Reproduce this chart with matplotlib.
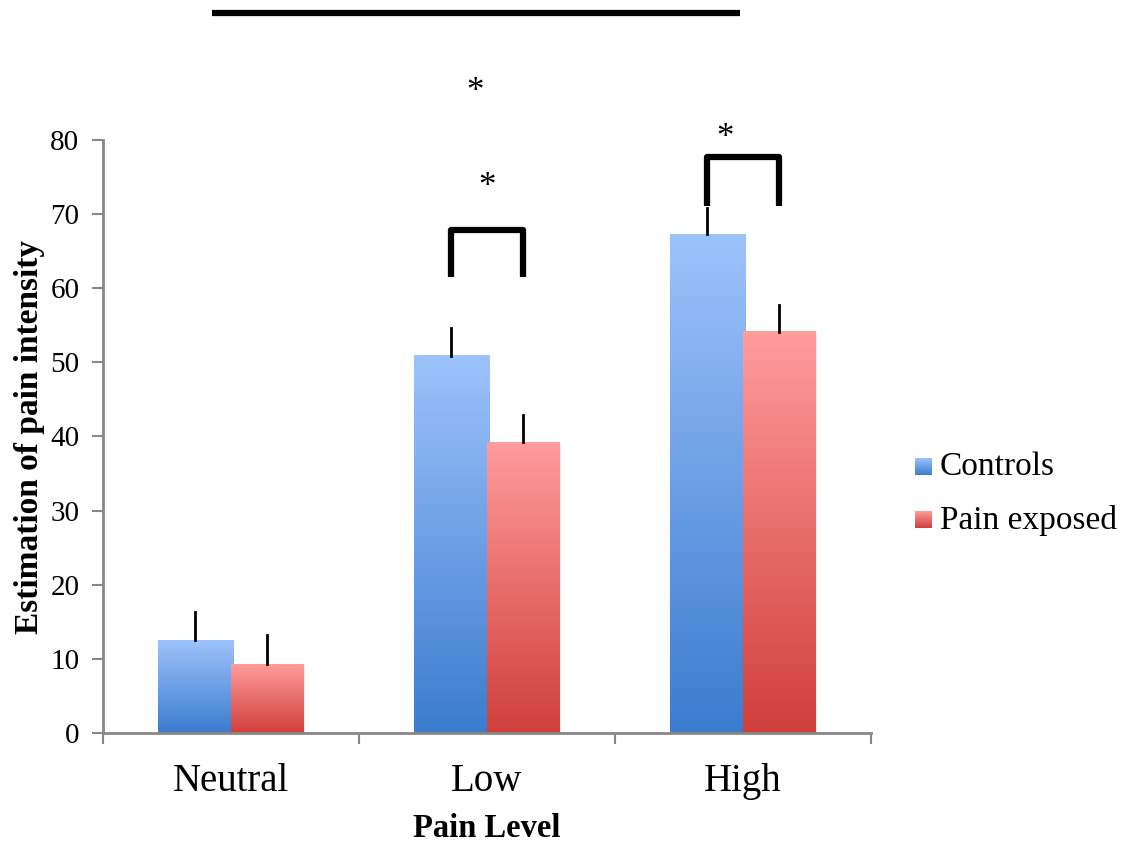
import numpy as np
import matplotlib.pyplot as plt
from matplotlib.colors import LinearSegmentedColormap

# data
levels = ['Neutral', 'Low', 'High']
controls = [12.5, 50.9, 67.3]
controls_err = [3.8, 3.7, 3.5]
pain = [9.3, 39.2, 54.1]
pain_err = [3.9, 3.7, 3.6]

plt.rcParams['font.family'] = ['Liberation Serif', 'DejaVu Serif']

fig = plt.figure(figsize=(11.27, 8.46), dpi=100)
ax = fig.add_axes([103/1127, 1-733/846, 768/1127, 593/846])

w = 0.285
x = np.arange(len(levels))

blue = LinearSegmentedColormap.from_list('b', ['#3B7CCF', '#9DC3FB'])
red = LinearSegmentedColormap.from_list('r', ['#D03F3B', '#FF9C9C'])
grad = np.linspace(0, 1, 256).reshape(-1, 1)

def gbar(x0, h, cmap, extra=0.0, z=2):
    # soft shadow then gradient fill
    ax.add_patch(plt.Rectangle((x0 + 0.006, -0.4), w, h + 0.1, color='#000000',
                               alpha=0.07, lw=0, zorder=1))
    ax.imshow(grad, cmap=cmap, origin='lower', aspect='auto',
              extent=(x0, x0 + w + extra, 0, h), zorder=z)

for i in range(len(levels)):
    gbar(x[i] - w, controls[i], blue, extra=0.01, z=2)
    gbar(x[i], pain[i], red, z=2.1)
    ax.plot([x[i] - w/2]*2, [controls[i], controls[i] + controls_err[i]],
            color='black', lw=2, zorder=3)
    ax.plot([x[i] + w/2]*2, [pain[i], pain[i] + pain_err[i]],
            color='black', lw=2, zorder=3)

ax.set_xlim(-0.5, 2.5)
ax.set_ylim(0, 80)
ax.set_yticks(range(0, 81, 10))
ax.set_xticks([-0.5, 0.5, 1.5, 2.5])
ax.set_xticklabels([])
for i, lab in enumerate(levels):
    ax.text(x[i], -4.1, lab, ha='center', va='top', fontsize=28)
ax.tick_params(axis='y', labelsize=21, length=8, width=1.5, color='#888888', pad=9)
ax.tick_params(axis='x', length=8, width=1.5, color='#888888')
for s in ['top', 'right']:
    ax.spines[s].set_visible(False)
for s in ['left', 'bottom']:
    ax.spines[s].set_color('#888888')
    ax.spines[s].set_linewidth(2)
ax.set_ylabel('Estimation of pain intensity', fontsize=24, fontweight='bold', labelpad=4)
ax.text(1, -12.9, 'Pain Level', ha='center', va='center', fontsize=23.5, fontweight='bold')

# significance brackets
br = dict(color='black', lw=4.5, clip_on=False, zorder=4, solid_capstyle='butt')
ax.plot([1 - w/2, 1 - w/2, 1 + w/2, 1 + w/2], [61.5, 67.9, 67.9, 61.5], **br)
ax.plot([2 - w/2, 2 - w/2, 2 + w/2, 2 + w/2], [71.1, 77.7, 77.7, 71.1], **br)
ax.plot([-0.074, 1.988], [97.1, 97.1], **br)
for xs, ys in [(1.0, 73.6), (0.955, 86.4), (1.93, 80.2)]:
    ax.text(xs, ys, '*', ha='center', va='center', fontsize=25)

# legend with gradient swatches
for j, (lab, cm) in enumerate([('Controls', blue), ('Pain exposed', red)]):
    yy = 458 + j * 53
    sw = fig.add_axes([915/1127, 1 - (yy + 17)/846, 17/1127, 17/846])
    sw.imshow(grad, cmap=cm, origin='lower', aspect='auto')
    sw.axis('off')
    fig.text(940/1127, 1 - (yy + 9)/846, lab, ha='left', va='center', fontsize=24)

fig.savefig('out.png', dpi=100)
